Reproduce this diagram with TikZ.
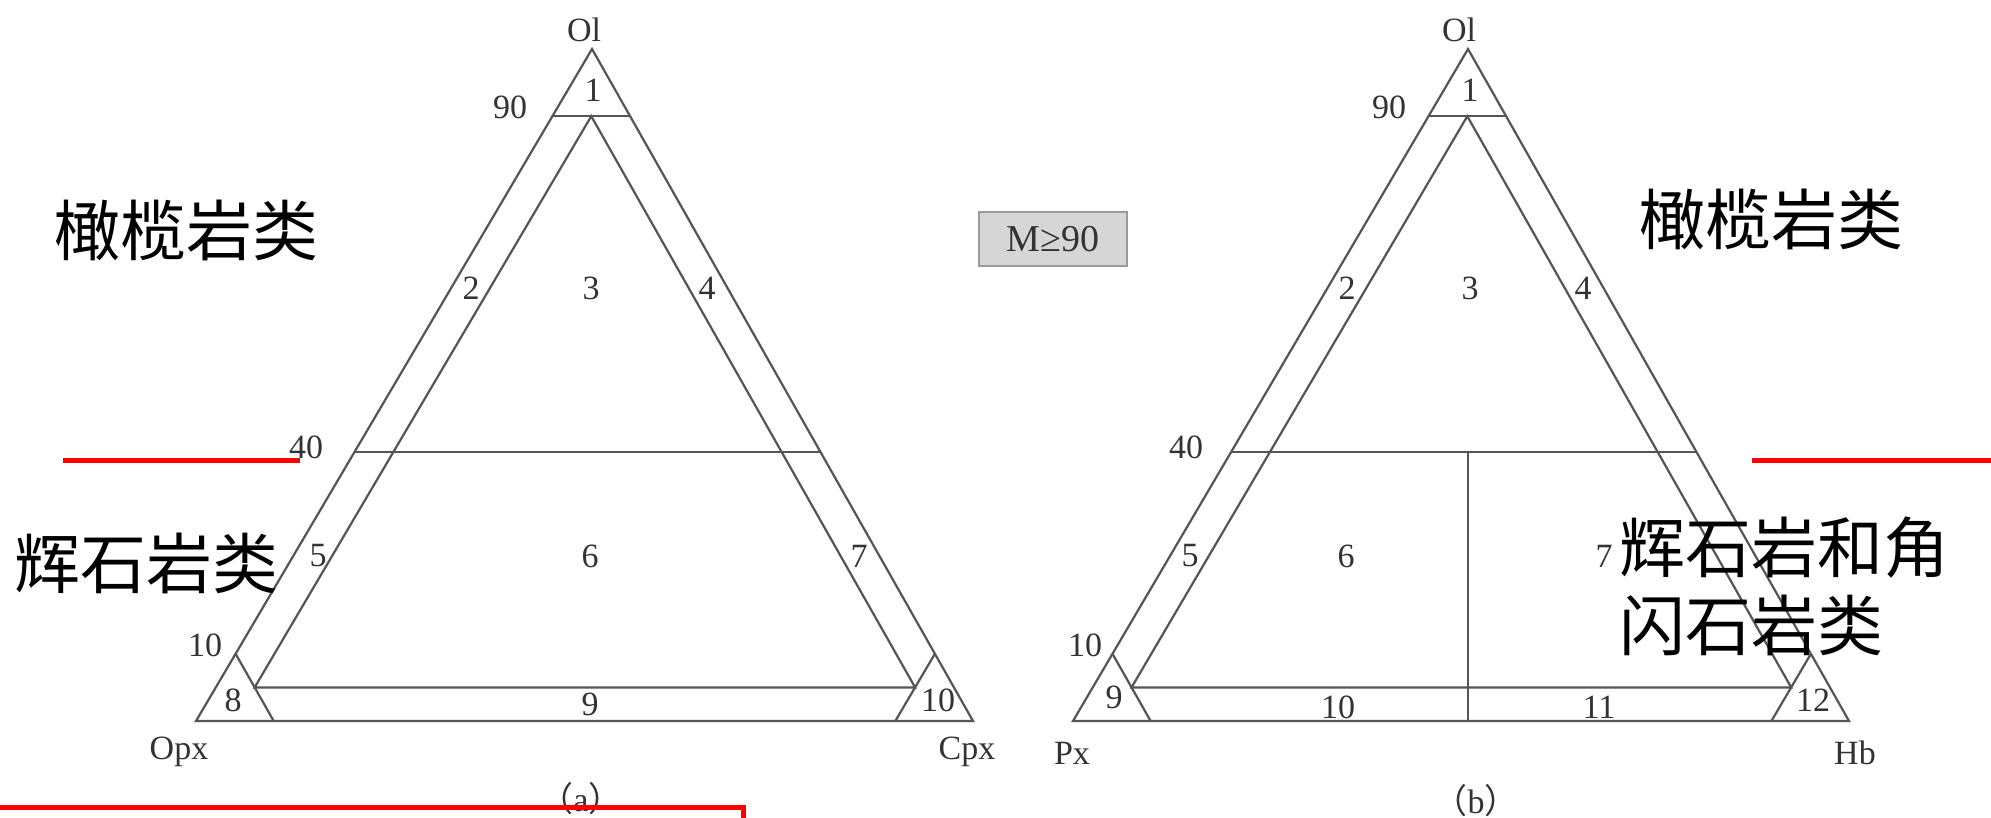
\documentclass[tikz,border=0pt]{standalone}
\usepackage{fontspec}
\setmainfont{Liberation Serif}
\newfontfamily\cjk{Noto Sans CJK SC}
\definecolor{ln}{HTML}{555555}
\definecolor{tx}{HTML}{333333}
\definecolor{redline}{HTML}{FF0000}
\definecolor{boxfill}{HTML}{D6D6D6}
\definecolor{boxedge}{HTML}{9A9A9A}
\newcommand\drawtern[3]{%
  \coordinate (#1i) at (barycentric cs:#1=0.9,#2=0.05,#3=0.05);
  \coordinate (#1l) at (barycentric cs:#1=0.05,#2=0.9,#3=0.05);
  \coordinate (#1r) at (barycentric cs:#1=0.05,#2=0.05,#3=0.9);
  \coordinate (#1f) at (barycentric cs:#1=0.4,#2=0.6);
  \draw[tri] (#1) -- (#2) -- (#3) -- cycle;
  \draw[tri] (barycentric cs:#1=0.9,#2=0.1) -- (barycentric cs:#1=0.9,#3=0.1);
  \draw[tri] (#1f) -- (barycentric cs:#1=0.4,#3=0.6);
  \draw[tri] (#1l) -- (#1i) -- (#1r) -- cycle;
  \draw[tri] (barycentric cs:#1=0.1,#2=0.9) -- (barycentric cs:#2=0.9,#3=0.1);
  \draw[tri] (barycentric cs:#1=0.1,#3=0.9) -- (barycentric cs:#2=0.1,#3=0.9);
}
\begin{document}
\begin{tikzpicture}[x=1pt,y=-1pt,
  tri/.style={draw=ln,line width=2.2pt},
  lab/.style={text=tx,font=\fontsize{34}{38}\selectfont,inner sep=0pt},
  cn/.style={text=black,font=\cjk\fontsize{66}{78}\selectfont,inner sep=0pt},
  redmark/.style={draw=redline,line width=5pt}]
\useasboundingbox (0,0) rectangle (1991,818);
\fill[white] (0,0) rectangle (1991,818);

% triangle (a)
\coordinate (aO) at (592,49);
\coordinate (aL) at (196,721);
\coordinate (aR) at (973,721);
\drawtern{aO}{aL}{aR}

% triangle (b)
\coordinate (bO) at (1468,49);
\coordinate (bL) at (1073,721);
\coordinate (bR) at (1849,721);
\drawtern{bO}{bL}{bR}
\draw[tri] (bO |- bOf) -- (bO |- bL);

% labels (a)
\node[lab] (aOl) at (584,30) {Ol};
\node[lab] (a90) at (510,107) {90};
\node[lab] (a1) at (593,90) {1};
\node[lab] (a2) at (471,288) {2};
\node[lab] (a3) at (591,288) {3};
\node[lab] (a4) at (707,288) {4};
\node[lab] (a40) at (306,447) {40};
\node[lab] (a5) at (318,556) {5};
\node[lab] (a6) at (590,556) {6};
\node[lab] (a7) at (859,556) {7};
\node[lab] (a10l) at (205,645) {10};
\node[lab] (a8) at (233,700) {8};
\node[lab] (a9) at (590,704) {9};
\node[lab] (a10r) at (938,700) {10};
\node[lab] (aOpx) at (179,752) {Opx};
\node[lab] (aCpx) at (967,752) {Cpx};
\node[lab] (acap) at (581,799) {{\cjk （}a{\cjk ）}};

% labels (b)
\node[lab] (bOl) at (1459,30) {Ol};
\node[lab] (b90) at (1389,107) {90};
\node[lab] (b1) at (1470,90) {1};
\node[lab] (b2) at (1347,288) {2};
\node[lab] (b3) at (1470,288) {3};
\node[lab] (b4) at (1583,288) {4};
\node[lab] (b40) at (1186,447) {40};
\node[lab] (b5) at (1190,556) {5};
\node[lab] (b6) at (1346,556) {6};
\node[lab] (b7) at (1604,556) {7};
\node[lab] (b10l) at (1085,645) {10};
\node[lab] (b9) at (1114,697) {9};
\node[lab] (b10) at (1338,707) {10};
\node[lab] (b11) at (1599,707) {11};
\node[lab] (b12) at (1813,700) {12};
\node[lab] (bPx) at (1072,753) {Px};
\node[lab] (bHb) at (1855,753) {Hb};
\node[lab] (bcap) at (1476,801) {{\cjk （}b{\cjk ）}};

% M box
\node[lab,font=\fontsize{38}{42}\selectfont,draw=boxedge,fill=boxfill,line width=2pt,minimum width=148pt,minimum height=54pt] (mbox) at (1053,239) {M≥90};

% Chinese annotations
\node[cn] (olivL) at (186,230) {橄榄岩类};
\node[cn] (pyxL) at (146,563) {辉石岩类};
\node[cn] (olivR) at (1771,219) {橄榄岩类};
\node[cn,align=left,anchor=west] (pyxR) at (1619,586) {辉石岩和角\\闪石岩类};

% red marks
\coordinate (r1a) at (63,460);
\coordinate (r1b) at (300,460);
\coordinate (r2a) at (1752,460);
\coordinate (r2b) at (1995,460);
\coordinate (r3a) at (-5,807);
\coordinate (r3b) at (743,807);
\coordinate (r3c) at (743,830);
\draw[redmark] (r1a) -- (r1b);
\draw[redmark] (r2a) -- (r2b);
\draw[redmark] (r3a) -- (r3b) -- (r3c);
\end{tikzpicture}
\end{document}
